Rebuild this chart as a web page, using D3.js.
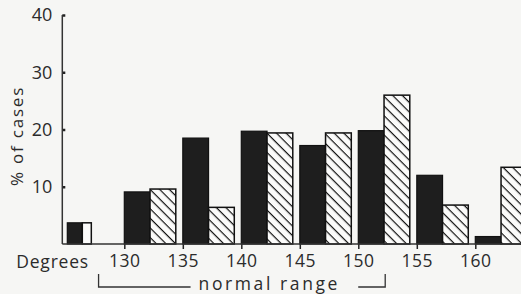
<!DOCTYPE html>
<html>
<head>
<meta charset="utf-8">
<script src="https://cdn.jsdelivr.net/npm/d3@7"></script>
<style>
  body { margin: 0; background: #f6f6f4; }
  svg { display: block; }
  text { font-family: "Open Sans", sans-serif; fill: #2b2b2b; }
</style>
</head>
<body>
<svg id="chart" width="521" height="294"></svg>
<script>
// Bins (lower edge, degrees); first bin is the "below 130" group
var binStart = [125, 130, 135, 140, 145, 150, 155, 160];
// % of cases, solid bars
var solidPct = [3.7, 9.1, 18.5, 19.7, 17.2, 19.8, 12.0, 1.3];
// % of cases, hatched bars
var hatchPct = [3.7, 9.6, 6.4, 19.4, 19.4, 26.0, 6.8, 13.4];
var yTicks = [10, 20, 30, 40];
var xTicks = [130, 135, 140, 145, 150, 155, 160];
var normalRange = [127.8, 152.3];

var W = 521, H = 294;
var svg = d3.select("#chart");

var x = d3.scaleLinear().domain([124.7, 160]).range([62.3, 475.3]);
var y = d3.scaleLinear().domain([0, 40]).range([244, 15]);

var bw = x(132.2) - x(130);   // one bar width

// Hatch pattern
var defs = svg.append("defs");
var pat = defs.append("pattern")
  .attr("id", "hatch")
  .attr("patternUnits", "userSpaceOnUse")
  .attr("width", 6.8)
  .attr("height", 6.8)
  .attr("patternTransform", "rotate(45)");
pat.append("rect").attr("width", 6.8).attr("height", 6.8).attr("fill", "#fbfbfa");
pat.append("line")
  .attr("x1", 0).attr("y1", 0).attr("x2", 6.8).attr("y2", 0)
  .attr("stroke", "#111").attr("stroke-width", 2.4);

// Bars
var bars = svg.append("g").attr("class", "bars");
binStart.forEach(function(b, i) {
  var x0 = x(b), w1 = bw, w2 = bw, fill2 = "url(#hatch)";
  if (i === 0) {
    // the below-130 group is drawn narrow and open
    x0 = x(b) + 1.5; w1 = 15; w2 = 9; fill2 = "#fbfbfa";
  }
  bars.append("rect")
    .attr("x", x0).attr("y", y(solidPct[i]))
    .attr("width", w1).attr("height", y(0) - y(solidPct[i]))
    .attr("fill", "#1e1e1e").attr("stroke", "#111").attr("stroke-width", 1.2);
  bars.append("rect")
    .attr("x", x0 + w1).attr("y", y(hatchPct[i]))
    .attr("width", w2).attr("height", y(0) - y(hatchPct[i]))
    .attr("fill", fill2).attr("stroke", "#111").attr("stroke-width", 1.5);
});

// Y axis
var gy = svg.append("g")
  .attr("transform", "translate(" + x.range()[0] + ",0)")
  .call(d3.axisLeft(y).tickValues(yTicks).tickSizeInner(-3).tickSizeOuter(0).tickPadding(10));
gy.select(".domain").remove();
gy.selectAll(".tick line").attr("stroke", "#222").attr("stroke-width", 2.5);
gy.selectAll(".tick text").style("font-size", "18px").attr("fill", "#2b2b2b");
gy.append("line")
  .attr("x1", 0).attr("x2", 0).attr("y1", y(40)).attr("y2", y(0))
  .attr("stroke", "#333").attr("stroke-width", 1.5);

svg.append("text")
  .attr("transform", "translate(17,136) rotate(-90)")
  .attr("text-anchor", "middle")
  .attr("dy", "0.35em")
  .style("font-size", "17px")
  .style("letter-spacing", "1.8px")
  .text("% of cases");

// X axis
var gx = svg.append("g")
  .attr("transform", "translate(0," + y(0) + ")")
  .call(d3.axisBottom(x).tickValues(xTicks).tickSizeInner(5).tickSizeOuter(0).tickPadding(6));
gx.select(".domain").remove();
gx.selectAll(".tick line").attr("stroke", "#222").attr("stroke-width", 1.5);
gx.selectAll(".tick text").style("font-size", "17.5px").style("letter-spacing", "0.6px").attr("fill", "#2b2b2b");
gx.append("line")
  .attr("x1", x.range()[0]).attr("x2", W).attr("y1", 0).attr("y2", 0)
  .attr("stroke", "#333").attr("stroke-width", 1.5);

svg.append("text")
  .attr("x", 89).attr("y", 268)
  .attr("text-anchor", "end")
  .style("font-size", "17.5px")
  .style("letter-spacing", "0.8px")
  .text("Degrees");

// Normal range bracket
var bx0 = x(normalRange[0]), bx1 = x(normalRange[1]), by = 287;
var br = svg.append("g").attr("stroke", "#333").attr("stroke-width", 1.3).attr("fill", "none");
br.append("path").attr("d", "M" + bx0 + "," + (by - 13) + "V" + by + "H" + (bx0 + 92));
br.append("path").attr("d", "M" + (bx1 - 27) + "," + by + "H" + bx1 + "V" + (by - 13));
svg.append("text")
  .attr("x", bx0 + 100).attr("y", 290)
  .attr("text-anchor", "start")
  .style("font-size", "17.5px")
  .style("letter-spacing", "2.6px")
  .text("normal range");
</script>
</body>
</html>
